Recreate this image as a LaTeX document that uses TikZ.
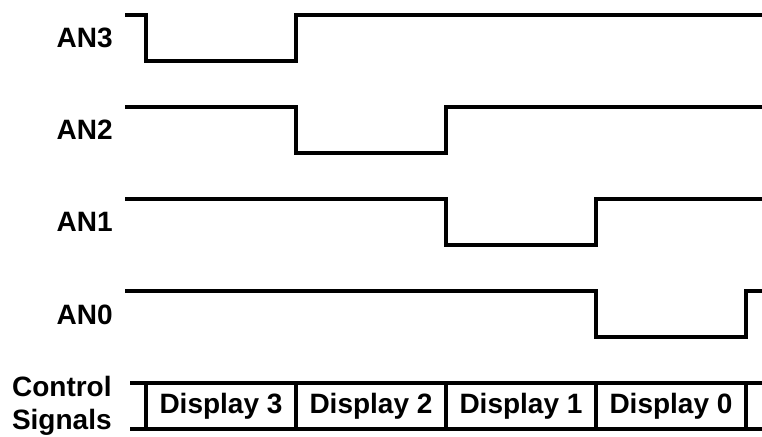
\documentclass[tikz,border=0pt]{standalone}
\usepackage{fontspec}
\setmainfont{Liberation Sans}
\usetikzlibrary{positioning}
\begin{document}
\begin{tikzpicture}[
	% Define styles and settings
	x=0.5pt, y=-0.5pt,
	wave/.style={line width=2pt, line join=miter},
	signame/.style={anchor=east, inner sep=0pt, align=right, font=\bfseries\fontsize{14}{16.5}\selectfont},
	slot/.style={inner sep=0pt, font=\bfseries\fontsize{14}{16}\selectfont}
	]
	% \draw[help lines] (0,0) grid (762,437);
	\useasboundingbox (0,0) rectangle (762,437);

	% anode enables, one low slot each
	\draw[wave] (125,15) -- (146,15) -- (146,61) -- (296,61) -- (296,15) -- (762,15);
	\draw[wave] (125,107) -- (296,107) -- (296,153) -- (446,153) -- (446,107) -- (762,107);
	\draw[wave] (125,199) -- (446,199) -- (446,245) -- (596,245) -- (596,199) -- (762,199);
	\draw[wave] (125,291) -- (596,291) -- (596,337) -- (746,337) -- (746,291) -- (762,291);

	\draw (113,38) node[signame] (AN3) {AN3};
	\draw (113,130) node[signame] (AN2) {AN2};
	\draw (113,222) node[signame] (AN1) {AN1};
	\draw (113,315) node[signame] (AN0) {AN0};

	% control bus
	\draw[wave] (130,383) -- (762,383);
	\draw[wave] (130,429) -- (762,429);
	\draw[wave] (146,383) -- (146,429);
	\draw[wave] (296,383) -- (296,429);
	\draw[wave] (446,383) -- (446,429);
	\draw[wave] (596,383) -- (596,429);
	\draw[wave] (746,383) -- (746,429);

	\draw (112,406) node[signame] (Control) {Control\\Signals};

	\draw (221,406) node[slot] (Display_3) {Display 3};
	\draw (371,406) node[slot] (Display_2) {Display 2};
	\draw (521,406) node[slot] (Display_1) {Display 1};
	\draw (671,406) node[slot] (Display_0) {Display 0};

\end{tikzpicture}
\end{document}
